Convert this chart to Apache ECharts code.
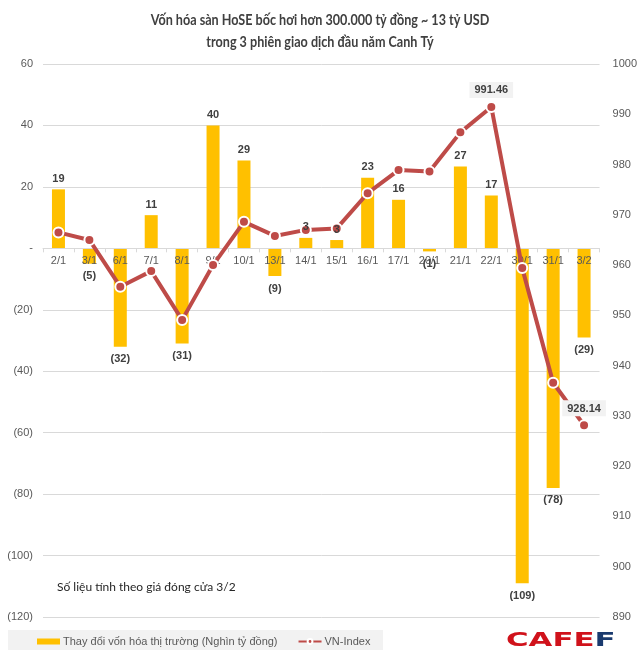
<!DOCTYPE html>
<html><head><meta charset="utf-8">
<script src="https://cdn.jsdelivr.net/npm/echarts@6/dist/echarts.min.js"></script>
<style>html,body{margin:0;padding:0;background:#fff}#c{width:640px;height:658px}</style>
</head><body><div id="c"></div>
<script>
const categories = ['2/1','3/1','6/1','7/1','8/1','9/1','10/1','13/1','14/1','15/1','16/1','17/1','20/1','21/1','22/1','30/1','31/1','3/2'];
const capChange = [19.2,-5,-32,10.8,-31,40,28.6,-9,3.4,2.7,23,15.8,-1,26.6,17.2,-109,-78,-29];
const vnIndex = [966.5,965.0,955.7,958.8,949.1,960.0,968.6,965.8,967.0,967.3,974.3,978.9,978.6,986.4,991.46,959.4,936.6,928.14];
const labeledIndexPoints = ['22/1','3/2'];
const leftRange = [-120, 60, 20];
const rightRange = [890, 1000, 10];
const barName = 'Thay đổi vốn hóa thị trường (Nghìn tỷ đồng)';
const lineName = 'VN-Index';
const titleLines = ['Vốn hóa sàn HoSE bốc hơi hơn 300.000 tỷ đồng ~ 13 tỷ USD', 'trong 3 phiên giao dịch đầu năm Canh Tý'];
const noteText = 'Số liệu tính theo giá đóng cửa 3/2';

const fmtNeg = v => v < 0 ? '(' + Math.round(-v) + ')' : String(Math.round(v));
const barLabel = {
  show: true, color: '#404040', fontFamily: 'Liberation Sans', fontWeight: 'bold', fontSize: 11,
  formatter: p => fmtNeg(p.value)
};

const W = 640, H = 658;
const grid = { left: 43, right: 40, top: 64, bottom: 41 };
const gridH = H - grid.top - grid.bottom;
// move the category axis up to the zero line of the left axis
const zeroOffset = -gridH * (0 - leftRange[0]) / (leftRange[1] - leftRange[0]);

const chart = echarts.init(document.getElementById('c'));
chart.setOption({
  animation: false,
  backgroundColor: '#fff',
  grid: grid,
  legend: {
    left: 32, top: 631, itemGap: 20, itemWidth: 23, itemHeight: 6,
    textStyle: { fontFamily: 'Liberation Sans', fontSize: 11, color: '#595959', padding: [0,0,0,-2] },
    data: [{ name: barName, icon: 'rect' }, { name: lineName }]
  },
  xAxis: {
    type: 'category', data: categories, position: 'bottom', offset: zeroOffset, z: 4,
    axisLine: { onZero: false, lineStyle: { color: '#d9d9d9' } },
    axisTick: { show: true, length: 4, lineStyle: { color: '#d9d9d9' } },
    axisLabel: { color: '#595959', fontFamily: 'Liberation Sans', fontSize: 11, margin: 7, interval: 0 }
  },
  yAxis: [
    {
      type: 'value', min: leftRange[0], max: leftRange[1], interval: leftRange[2],
      axisLine: { show: false }, axisTick: { show: false },
      splitLine: { lineStyle: { color: '#d9d9d9' } },
      axisLabel: { color: '#595959', fontFamily: 'Liberation Sans', fontSize: 11, margin: 10,
        formatter: v => v === 0 ? '-' : (v < 0 ? '(' + (-v) + ')' : String(v)) }
    },
    {
      type: 'value', min: rightRange[0], max: rightRange[1], interval: rightRange[2],
      axisLine: { show: false, onZero: false }, axisTick: { show: false }, splitLine: { show: false },
      axisLabel: { color: '#595959', fontFamily: 'Liberation Sans', fontSize: 11, margin: 13,
        formatter: v => String(v) }
    }
  ],
  series: [
    {
      name: barName, type: 'bar', barWidth: 13, yAxisIndex: 0,
      itemStyle: { color: '#FFC000' },
      data: capChange,
      z: 2
    },
    {
      name: lineName, type: 'line', yAxisIndex: 1,
      data: vnIndex.map((v, i) => ({
        value: v,
        label: { show: labeledIndexPoints.indexOf(categories[i]) >= 0 }
      })),
      lineStyle: { color: '#BE4B48', width: 4 },
      itemStyle: { color: '#BE4B48', borderColor: '#fff', borderWidth: 2 },
      symbol: 'circle', symbolSize: 10, showAllSymbol: true,
      label: {
        position: 'top', distance: 3, color: '#404040', fontFamily: 'Liberation Sans', fontWeight: 'bold', fontSize: 11,
        backgroundColor: '#f2f2f2', padding: [3, 5, 2, 5],
        formatter: p => p.value.toFixed(2)
      },
      z: 5
    },
    {
      name: 'labels', type: 'bar', barWidth: 13, barGap: '-100%', yAxisIndex: 0,
      itemStyle: { color: 'rgba(0,0,0,0)' }, silent: true,
      data: capChange.map(v => ({
        value: v,
        label: { position: v < 0 ? 'bottom' : 'top', distance: v < 0 ? 7 : 5 }
      })),
      label: barLabel,
      z: 10
    }
  ],
  graphic: [
    { type: 'rect', left: 8, top: 630, shape: { width: 375, height: 20 }, style: { fill: '#f2f2f2' }, z: -1, silent: true },
    { type: 'text', x: 320, y: 13, scaleX: 0.84, style: { text: titleLines[0], font: 'bold 15px Lato', fill: '#404040', align: 'center', textAlign: 'center' } },
    { type: 'text', x: 320, y: 35, scaleX: 0.84, style: { text: titleLines[1], font: 'bold 15px Lato', fill: '#404040', align: 'center', textAlign: 'center' } },
    { type: 'text', left: 57, top: 581, style: { text: noteText, font: '12px Lato', fill: '#262626' } },
    { type: 'text', x: 506, y: 632, scaleX: 1.62, style: { text: '{r|CAFE}{b|F}', rich: {
        r: { font: 'bold 19px "DejaVu Sans"', fill: '#D0121B' },
        b: { font: 'bold 19px "DejaVu Sans"', fill: '#1A3A6E' } } } }
  ]
});
</script></body></html>
